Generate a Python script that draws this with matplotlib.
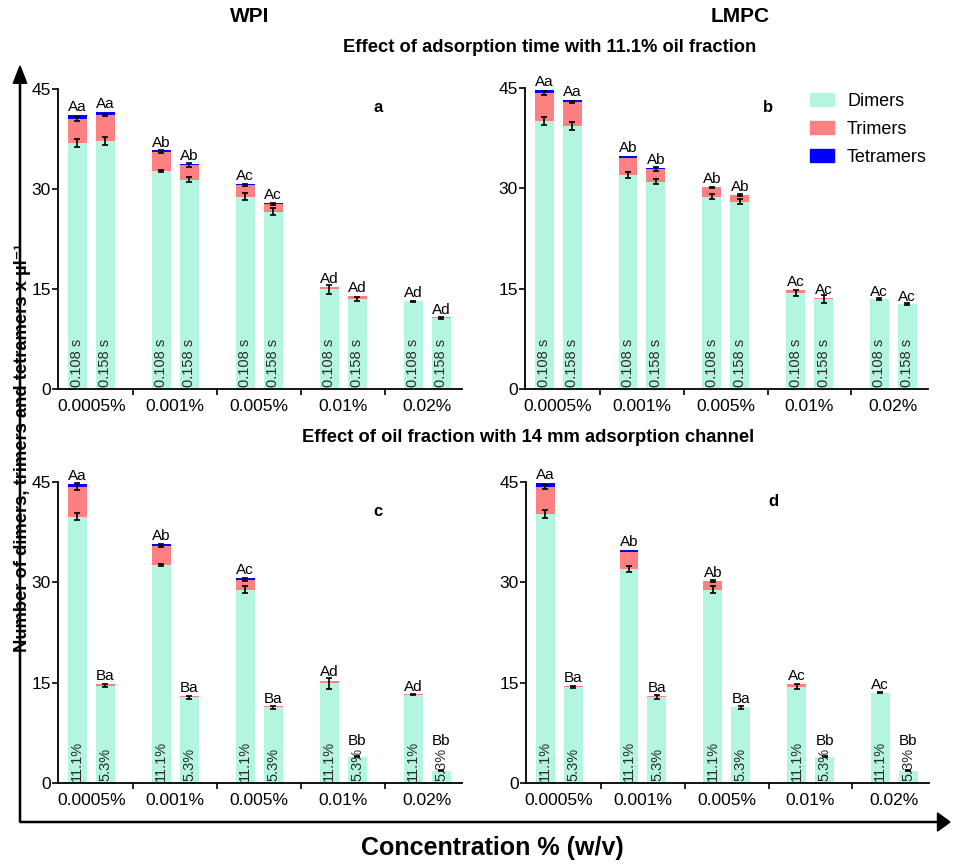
import numpy as np
import matplotlib
matplotlib.use('Agg')
import matplotlib.pyplot as plt
from matplotlib.patches import Patch

plt.rcParams['font.family'] = ['Liberation Sans', 'DejaVu Sans']

# categories
concentrations = ['0.0005%', '0.001%', '0.005%', '0.01%', '0.02%']
time_labels = ['0.108 s', '0.158 s']
oil_labels = ['11.1%', '5.3%']

# ---------------- panel a : WPI, adsorption time ----------------
a_dimers = [36.9, 37.2, 32.7, 31.4, 28.85, 26.6, 14.95, 13.55, 13.15, 10.65]
a_trimers = [3.6, 3.9, 2.9, 2.2, 1.8, 1.2, 0.35, 0.4, 0.1, 0.1]
a_tetramers = [0.6, 0.45, 0.25, 0.15, 0.15, 0.1, 0, 0, 0, 0]
a_dim_err = [0.6, 0.6, 0.15, 0.4, 0.5, 0.5, 0.7, 0.3, 0.1, 0.1]
a_tri_err = [0.25, 0.15, 0.2, 0.3, 0.15, 0.15, 0, 0, 0, 0]
a_letters = ['Aa', 'Aa', 'Ab', 'Ab', 'Ac', 'Ac', 'Ad', 'Ad', 'Ad', 'Ad']

# ---------------- panel b : LMPC, adsorption time ----------------
b_dimers = [40.0, 39.35, 32.0, 31.0, 28.75, 28.0, 14.37, 13.5, 13.47, 12.73]
b_trimers = [4.2, 3.55, 2.6, 1.9, 1.4, 1.0, 0.45, 0.12, 0, 0]
b_tetramers = [0.5, 0.25, 0.25, 0.1, 0.05, 0.02, 0, 0, 0, 0]
b_dim_err = [0.6, 0.6, 0.4, 0.4, 0.4, 0.4, 0.4, 0.6, 0.1, 0.1]
b_tri_err = [0.3, 0.1, 0, 0.3, 0.1, 0.1, 0, 0, 0, 0]
b_letters = ['Aa', 'Aa', 'Ab', 'Ab', 'Ab', 'Ab', 'Ac', 'Ac', 'Ac', 'Ac']

# ---------------- panel c : WPI, oil fraction ----------------
c_dimers = [39.8, 14.55, 32.6, 12.8, 28.9, 11.3, 14.9, 3.93, 13.2, 1.84]
c_trimers = [4.5, 0.25, 2.9, 0.25, 1.5, 0.2, 0.4, 0, 0.05, 0]
c_tetramers = [0.45, 0, 0.3, 0, 0.25, 0, 0, 0, 0, 0]
c_dim_err = [0.5, 0.25, 0.2, 0.25, 0.5, 0.2, 0.8, 0.1, 0.1, 0.1]
c_tri_err = [0.5, 0, 0.2, 0, 0.2, 0, 0, 0, 0, 0]
c_letters = ['Aa', 'Ba', 'Ab', 'Ba', 'Ac', 'Ba', 'Ad', 'Bb', 'Ad', 'Bb']

# ---------------- panel d : LMPC, oil fraction ----------------
d_dimers = [40.25, 14.4, 32.0, 12.8, 28.9, 11.3, 14.4, 3.93, 13.5, 1.84]
d_trimers = [3.95, 0.15, 2.6, 0.25, 1.25, 0.1, 0.45, 0, 0, 0]
d_tetramers = [0.6, 0, 0.3, 0, 0.1, 0, 0, 0, 0, 0]
d_dim_err = [0.6, 0.15, 0.4, 0.3, 0.5, 0.2, 0.4, 0.1, 0.1, 0.1]
d_tri_err = [0.3, 0, 0, 0, 0.15, 0, 0, 0, 0, 0]
d_letters = ['Aa', 'Ba', 'Ab', 'Ba', 'Ab', 'Ba', 'Ac', 'Bb', 'Ac', 'Bb']

col_dim = '#b3f5de'
col_tri = '#ff8080'
col_tet = '#0000ff'

fig = plt.figure(figsize=(9.62, 8.64), dpi=100)
W, H = 962, 864


def px_axes(x0, y_top, x1, y_bot):
    return fig.add_axes([x0 / W, 1 - y_bot / H, (x1 - x0) / W, (y_bot - y_top) / H])


def draw_panel(ax, dimers, trimers, tetramers, dim_err, tri_err, letters, inner, letter, lx, ly):
    dimers = np.array(dimers)
    trimers = np.array(trimers)
    tetramers = np.array(tetramers)
    groups = np.repeat(np.arange(len(concentrations)), 2)
    x = groups + np.tile([-0.167, 0.167], len(concentrations))
    w = 0.226
    ax.bar(x, dimers, w, color=col_dim, zorder=1)
    ax.bar(x, trimers, w, bottom=dimers, color=col_tri, zorder=1)
    ax.bar(x, tetramers, w, bottom=dimers + trimers, color=col_tet, zorder=1)
    ax.errorbar(x, dimers, yerr=dim_err, fmt='none', ecolor='black',
                elinewidth=1.2, capsize=2.5, capthick=1.2, zorder=3)
    m = np.array(tri_err) > 0
    ax.errorbar(x[m], (dimers + trimers)[m], yerr=np.array(tri_err)[m], fmt='none',
                ecolor='black', elinewidth=1.2, capsize=2.5, capthick=1.2, zorder=3)
    tops = dimers + trimers + tetramers + np.maximum(dim_err, tri_err) * 0.3
    for i in range(len(x)):
        ax.text(x[i], 0.25, inner[i % 2], rotation=90, ha='center', va='bottom',
                fontsize=10.5, color='#2a2a2a', zorder=4)
        ly_i = max(tops[i] + 0.45, 5.7)
        ax.text(x[i], ly_i, letters[i], ha='center', va='baseline', fontsize=11, zorder=4)
    ax.set_ylim(0, 45)
    ax.set_xlim(-0.396, 4.414)
    ax.set_yticks([0, 15, 30, 45])
    ax.set_xticks(range(len(concentrations)))
    ax.set_xticklabels(concentrations)
    ax.set_xticks(np.arange(0.5, 4.0, 1.0), minor=True)
    ax.tick_params(axis='x', which='major', length=0, pad=7, labelsize=12.5)
    ax.tick_params(axis='x', which='minor', length=4, width=1.2, direction='out')
    ax.tick_params(axis='y', length=4, width=1.2, pad=1, labelsize=12.5)
    for s in ['top', 'right']:
        ax.spines[s].set_visible(False)
    for s in ['left', 'bottom']:
        ax.spines[s].set_linewidth(1.3)
    ax.text(lx, ly, letter, transform=ax.transAxes, fontsize=12, fontweight='bold',
            ha='center', va='center')


ax_a = px_axes(58, 89, 462, 389)
ax_b = px_axes(525, 88, 928, 389)
ax_c = px_axes(58, 482, 462, 783)
ax_d = px_axes(526, 482, 929, 783)

draw_panel(ax_a, a_dimers, a_trimers, a_tetramers, a_dim_err, a_tri_err, a_letters,
           time_labels, 'a', (378 - 58) / 404, 1 - (108 - 89) / 300)
draw_panel(ax_b, b_dimers, b_trimers, b_tetramers, b_dim_err, b_tri_err, b_letters,
           time_labels, 'b', (768 - 525) / 403, 1 - (108 - 88) / 301)
draw_panel(ax_c, c_dimers, c_trimers, c_tetramers, c_dim_err, c_tri_err, c_letters,
           oil_labels, 'c', (378 - 58) / 404, 1 - (512 - 482) / 301)
draw_panel(ax_d, d_dimers, d_trimers, d_tetramers, d_dim_err, d_tri_err, d_letters,
           oil_labels, 'd', (773 - 526) / 403, 1 - (501 - 482) / 301)

handles = [Patch(color=col_dim, label='Dimers'),
           Patch(color=col_tri, label='Trimers'),
           Patch(color=col_tet, label='Tetramers')]
fig.legend(handles=handles, loc='upper left', bbox_to_anchor=(810 / W, 1 - 93 / H),
           frameon=False, fontsize=13, handlelength=1.35, handleheight=0.75,
           handletextpad=0.7, labelspacing=0.6, borderpad=0, borderaxespad=0)

# headings
fig.text(250 / W, 1 - 17 / H, 'WPI', fontsize=15, fontweight='bold', ha='center', va='center')
fig.text(740 / W, 1 - 17 / H, 'LMPC', fontsize=15, fontweight='bold', ha='center', va='center')
fig.text(550 / W, 1 - 48 / H, 'Effect of adsorption time with 11.1% oil fraction',
         fontsize=13.2, fontweight='bold', ha='center', va='center')
fig.text(528 / W, 1 - 437 / H, 'Effect of oil fraction with 14 mm adsorption channel',
         fontsize=13.2, fontweight='bold', ha='center', va='center')

# outer arrows
fig.add_artist(matplotlib.patches.FancyArrow(20 / W, 1 - 822 / H, 0, (822 - 66) / H,
               width=0.0012, head_width=0.014, head_length=0.02,
               length_includes_head=True, color='black', transform=fig.transFigure))
fig.add_artist(matplotlib.patches.FancyArrow(20 / W, 1 - 822 / H, (950 - 20) / W, 0,
               width=0.0013, head_width=0.021, head_length=0.013,
               length_includes_head=True, color='black', transform=fig.transFigure))

fig.text(23 / W, 1 - 448 / H, 'Number of dimers, trimers and tetramers x µl⁻¹',
         rotation=90, fontsize=13.2, fontweight='bold', ha='center', va='center')
fig.text(492 / W, 1 - 848 / H, 'Concentration % (w/v)', fontsize=18,
         fontweight='bold', ha='center', va='center')

plt.savefig('out.png', dpi=100)
